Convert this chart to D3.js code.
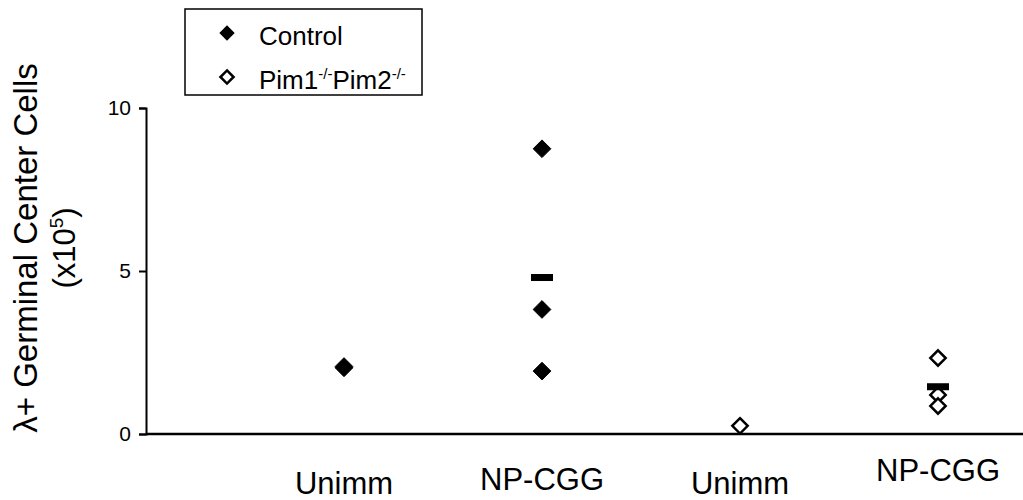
<!DOCTYPE html>
<html>
<head>
<meta charset="utf-8">
<script src="https://cdn.jsdelivr.net/npm/d3@7"></script>
<style>
  body { margin: 0; background: #fff; }
  svg { display: block; font-family: "Liberation Sans", Arial, sans-serif; }
</style>
</head>
<body>
<div id="chart-div"></div>
<script>
// データ -------------------------------------------------------------
const categories = ["Unimm", "NP-CGG", "Unimm", "NP-CGG"];
const controlValues = [[2.07, 2.03], [8.75, 3.82, 1.93], [], []];
const pimValues = [[], [], [0.25], [2.33, 1.2, 0.86]];
const meanCats = [1, 3];       // categories の添字
const meanValues = [4.8, 1.45];
const yTicks = [0, 5, 10];

const width = 1023, height = 500;

const svg = d3.select('#chart-div')
  .append('svg')
  .attr('width', width)
  .attr('height', height);

// スケール ------------------------------------------------------------
const x = d3.scaleLinear().domain([0, 5]).range([146, 1136]);
const y = d3.scaleLinear().domain([0, 10]).range([434, 108]);

// Y軸 ----------------------------------------------------------------
const yAxis = svg.append('g')
  .attr('transform', 'translate(146,0)')
  .call(d3.axisLeft(y).tickValues(yTicks).tickSize(7).tickPadding(8));
yAxis.select('.domain').attr('stroke', '#000').attr('stroke-width', 2);
yAxis.selectAll('.tick line').attr('stroke', '#000').attr('stroke-width', 2);
yAxis.selectAll('.tick text')
  .style('font-size', '21px')
  .style('font-family', '"Liberation Sans", Arial, sans-serif')
  .attr('fill', '#000');

// X軸の線
svg.append('line')
  .attr('x1', 146).attr('x2', width)
  .attr('y1', y(0)).attr('y2', y(0))
  .attr('stroke', '#000').attr('stroke-width', 2.5);

// X軸ラベル（ずれて配置）
const labelBase = [494, 490, 494, 481];
svg.append('g')
  .selectAll('text')
  .data(categories)
  .enter()
  .append('text')
  .attr('x', (d, i) => x(i + 1))
  .attr('y', (d, i) => labelBase[i])
  .attr('text-anchor', 'middle')
  .attr('font-size', '31px')
  .text(d => d);

// Y軸タイトル
const title = svg.append('text')
  .attr('transform', 'translate(37,248) rotate(-90)')
  .attr('text-anchor', 'middle')
  .attr('font-size', '33px');
title.append('tspan').attr('x', 0).attr('dy', 0).text('λ+ Germinal Center Cells');
const title2 = svg.append('text')
  .attr('transform', 'translate(75,248) rotate(-90)')
  .attr('text-anchor', 'middle')
  .attr('font-size', '31px');
title2.append('tspan').text('(x10');
title2.append('tspan').attr('dy', -12).attr('font-size', '19px').text('5');
title2.append('tspan').attr('dy', 12).text(')');

// 点 ------------------------------------------------------------------
const flat = arr => arr.flatMap((vals, i) => vals.map(v => ({ cat: i + 1, v })));

svg.append('g')
  .selectAll('path')
  .data(flat(controlValues))
  .enter()
  .append('path')
  .attr('d', d3.symbol().type(d3.symbolDiamond2).size(200))
  .attr('transform', d => 'translate(' + x(d.cat) + ',' + y(d.v) + ')')
  .attr('fill', '#000')
  .attr('stroke', '#000')
  .attr('stroke-width', 1);

svg.append('g')
  .selectAll('path')
  .data(flat(pimValues))
  .enter()
  .append('path')
  .attr('d', d3.symbol().type(d3.symbolDiamond2).size(150))
  .attr('transform', d => 'translate(' + x(d.cat) + ',' + y(d.v) + ')')
  .attr('fill', '#fff')
  .attr('stroke', '#000')
  .attr('stroke-width', 2.5);

// 平均バー
svg.append('g')
  .selectAll('rect')
  .data(meanCats)
  .enter()
  .append('rect')
  .attr('x', d => x(d + 1) - 11)
  .attr('y', (d, i) => y(meanValues[i]) - 3.5)
  .attr('width', 22)
  .attr('height', 7)
  .attr('fill', '#000');

// 凡例 ----------------------------------------------------------------
const legend = svg.append('g');
legend.append('rect')
  .attr('x', 185).attr('y', 9)
  .attr('width', 237).attr('height', 86)
  .attr('fill', '#fff')
  .attr('stroke', '#000')
  .attr('stroke-width', 1.5);
legend.append('path')
  .attr('d', d3.symbol().type(d3.symbolDiamond2).size(150))
  .attr('transform', 'translate(227,33)')
  .attr('fill', '#000');
legend.append('path')
  .attr('d', d3.symbol().type(d3.symbolDiamond2).size(110))
  .attr('transform', 'translate(227,77)')
  .attr('fill', '#fff')
  .attr('stroke', '#000')
  .attr('stroke-width', 2.5);
legend.append('text')
  .attr('x', 259).attr('y', 45)
  .attr('font-size', '26px')
  .text('Control');
const lt = legend.append('text')
  .attr('x', 259).attr('y', 89)
  .attr('font-size', '26px');
lt.append('tspan').text('Pim1');
lt.append('tspan').attr('dy', -10).attr('font-size', '15px').text('-/-');
lt.append('tspan').attr('dy', 10).text('Pim2');
lt.append('tspan').attr('dy', -10).attr('font-size', '15px').text('-/-');
</script>
</body>
</html>
